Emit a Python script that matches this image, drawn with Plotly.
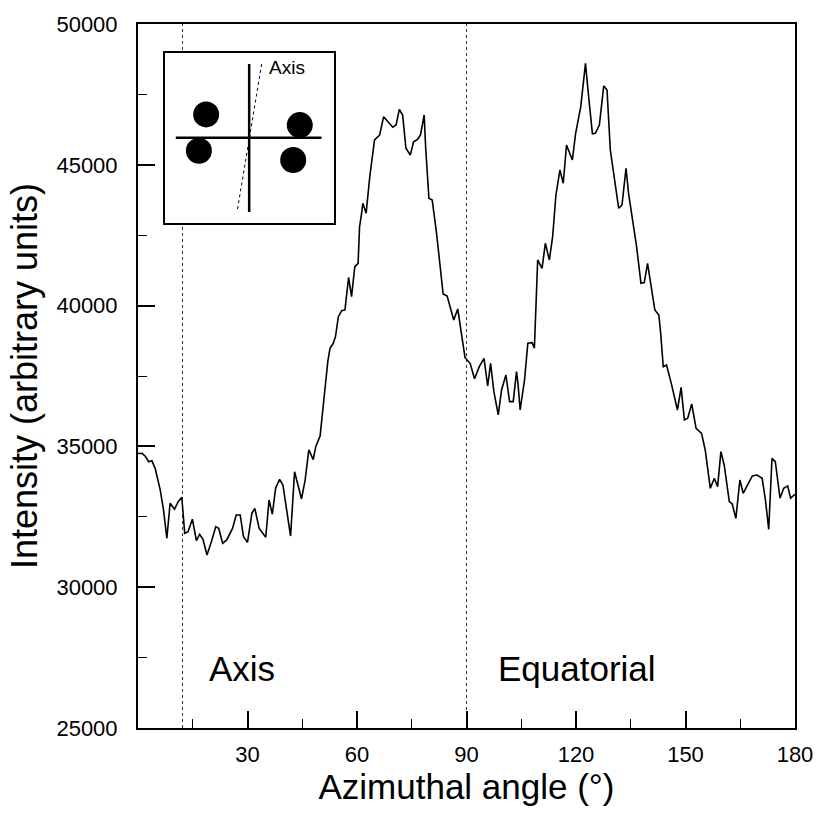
import plotly.graph_objects as go

# ---- data ----
angle = [0.0, 1.1, 2.0, 2.9, 3.8, 4.7, 6.1, 7.0, 7.9, 8.8, 10.0, 11.0, 12.0, 12.8, 13.7,
         14.9, 16.0, 16.9, 17.8, 18.9, 20.1, 21.3, 22.1, 23.2, 24.3, 25.9, 26.9, 28.0,
         28.9, 30.0, 31.2, 32.0, 33.2, 35.0, 35.9, 36.8, 37.7, 38.8, 39.7, 40.6, 41.8,
         42.9, 44.8, 45.8, 46.8, 48.0, 48.7, 49.9, 50.4, 51.1, 52.0, 52.6, 53.5, 54.1,
         54.9, 55.8, 56.7, 57.7, 58.5, 59.4, 60.3, 60.7, 61.2, 61.6, 62.5, 63.5, 64.8,
         66.2, 67.3, 68.4, 69.8, 70.7, 71.6, 72.5, 73.4, 74.6, 75.5, 76.6, 77.4, 78.4,
         78.8, 79.7, 80.6, 81.8, 82.9, 83.3, 83.6, 84.7, 86.5, 87.6, 88.3, 88.8, 89.6,
         91.0, 92.2, 93.5, 94.8, 95.8, 96.6, 97.5, 98.7, 99.6, 100.8, 101.8, 102.8,
         103.7, 104.1, 104.7, 105.9, 106.8, 108.0, 108.6, 109.1, 109.5, 110.7, 111.6,
         112.7, 113.6, 114.5, 115.6, 116.5, 117.4, 119.0, 119.9, 121.3, 122.6, 123.4,
         124.5, 125.3, 126.4, 127.6, 128.5, 129.4, 130.6, 131.7, 132.6, 133.7, 134.4,
         135.3, 136.6, 137.8, 138.7, 139.6, 140.3, 141.6, 142.7, 143.2, 143.9, 144.8,
         146.1, 147.8, 148.8, 149.7, 150.6, 151.7, 152.9, 154.4, 155.4, 156.8, 157.9,
         158.8, 159.7, 160.6, 162.0, 162.8, 163.8, 164.9, 165.8, 166.9, 168.3, 169.6,
         171.0, 171.9, 172.8, 173.7, 174.6, 175.9, 176.9, 178.0, 178.8, 180.0]
intensity = [34750, 34755, 34650, 34457, 34493, 34222, 33450, 32740, 31737, 32980, 32767,
             33037, 33193, 31915, 31972, 32413, 31652, 31880, 31700, 31145, 31617, 32150,
             32090, 31560, 31677, 32090, 32565, 32565, 31795, 31595, 32625, 32800, 32090,
             31773, 33097, 32590, 33513, 33832, 33630, 32920, 31818, 34102, 33133, 33808,
             34880, 34530, 34990, 35380, 35938, 36886, 38008, 38484, 38662, 38897, 39607,
             39820, 39845, 41000, 40317, 41382, 41500, 42800, 43218, 43633, 43278, 44578,
             45881, 46058, 46708, 46530, 46332, 46413, 46970, 46768, 45586, 45350, 45820,
             45905, 46058, 46768, 45643, 43810, 43750, 42568, 41382, 40910, 40413, 40341,
             39490, 39880, 39251, 38897, 38150, 37950, 37400, 37831, 38128, 37145, 37950,
             36944, 36116, 37004, 37536, 36589, 36589, 37654, 37240, 36293, 37358, 38662,
             38684, 38484, 40555, 41620, 41325, 42212, 41620, 42448, 43928, 44816, 44343,
             45703, 45171, 46119, 47063, 48604, 47500, 46100, 46119, 46413, 47800, 47656,
             45526, 44461, 43455, 43573, 44876, 43988, 43160, 42092, 40792, 40815, 41500,
             40910, 39845, 39667, 39016, 37831, 37891, 37240, 36293, 37098, 35938, 35997,
             36506, 35643, 35465, 34873, 33513, 33868, 33570, 34813, 34340, 33037, 32955,
             32446, 33808, 33335, 33630, 33950, 33985, 33868, 33097, 32056, 34578, 34457,
             33160, 33513, 33597, 33160, 33300]

x_ticks = [30, 60, 90, 120, 150, 180]
x_tick_text = ["30", "60", "90", "120", "150", "180"]
y_ticks = [25000, 30000, 35000, 40000, 45000, 50000]
y_tick_text = ["25000", "30000", "35000", "40000", "45000", "50000"]
divider_angles = [12.2, 90]
region_labels = ["Axis", "Equatorial"]
region_label_angles = [28.5, 120.4]
region_label_y = 27130

FONT = "Liberation Sans, Arial, sans-serif"

fig = go.Figure()
fig.add_trace(go.Scatter(x=angle, y=intensity, mode="lines",
                         line=dict(color="black", width=1.6),
                         showlegend=False, hoverinfo="skip"))

# dotted dividers
for a in divider_angles:
    fig.add_shape(type="line", xref="x", yref="paper", x0=a, x1=a, y0=0, y1=1,
                  line=dict(color="#333333", width=1, dash="dot"), layer="below")

for lab, a in zip(region_labels, region_label_angles):
    fig.add_annotation(x=a, y=region_label_y, xref="x", yref="y", text=lab,
                       showarrow=False, font=dict(family=FONT, size=35, color="black"))

# ---- inset schematic (own axes, unit box) ----
inset_dots_x = [0.245, 0.202, 0.8, 0.761]
inset_dots_y = [0.639, 0.425, 0.576, 0.371]
fig.add_trace(go.Scatter(x=inset_dots_x, y=inset_dots_y, xaxis="x2", yaxis="y2",
                         mode="markers", marker=dict(color="black", size=26),
                         showlegend=False, hoverinfo="skip"))
fig.add_shape(type="line", xref="x2", yref="y2", x0=0.5, x1=0.5, y0=0.065, y1=0.935,
              line=dict(color="black", width=2.5))
fig.add_shape(type="line", xref="x2", yref="y2", x0=0.065, x1=0.929, y0=0.502, y1=0.502,
              line=dict(color="black", width=2.5))
fig.add_shape(type="line", xref="x2", yref="y2", x0=0.431, x1=0.575, y0=0.082, y1=0.939,
              line=dict(color="black", width=1, dash="dot"))
fig.add_annotation(x=0.725, y=0.915, xref="x2", yref="y2", text="Axis", showarrow=False,
                   font=dict(family=FONT, size=19, color="black"))

fig.update_layout(
    width=825, height=813,
    margin=dict(l=138, r=24, t=24, b=85),
    paper_bgcolor="white", plot_bgcolor="white",
    font=dict(family=FONT, color="black"),
    xaxis=dict(range=[0, 180], tickvals=x_ticks, ticktext=x_tick_text, ticks="inside",
               ticklen=17, tickwidth=1.5,
               tickcolor="black", showline=True, linecolor="black", linewidth=2,
               mirror=True, showgrid=False, zeroline=False,
               tickfont=dict(family=FONT, size=22), ticklabelstandoff=6,
               minor=dict(dtick=15, tick0=0, ticks="inside", ticklen=9, tickwidth=1.2,
                          tickcolor="black", showgrid=False),
               title=dict(text="Azimuthal angle (°)", font=dict(family=FONT, size=35),
                          standoff=4)),
    yaxis=dict(range=[25000, 50000], tickvals=y_ticks, ticktext=y_tick_text,
               ticks="inside", ticklen=17,
               tickwidth=1.5, tickcolor="black", showline=True, linecolor="black",
               linewidth=2, mirror=True, showgrid=False, zeroline=False,
               tickfont=dict(family=FONT, size=22), ticklabelstandoff=14,
               minor=dict(dtick=2500, tick0=25000, ticks="inside", ticklen=9,
                          tickwidth=1.2, tickcolor="black", showgrid=False),
               title=dict(text="Intensity (arbitrary units)", font=dict(family=FONT, size=36),
                          standoff=8)),
    xaxis2=dict(domain=[0.0408, 0.2976], anchor="y2", range=[0, 1], showgrid=False,
                zeroline=False, showticklabels=False, ticks="", showline=True,
                linecolor="black", linewidth=1.5, mirror=True),
    yaxis2=dict(domain=[0.7173, 0.9588], anchor="x2", range=[0, 1], showgrid=False,
                zeroline=False, showticklabels=False, ticks="", showline=True,
                linecolor="black", linewidth=1.5, mirror=True),
)

fig.write_html("out.html")
